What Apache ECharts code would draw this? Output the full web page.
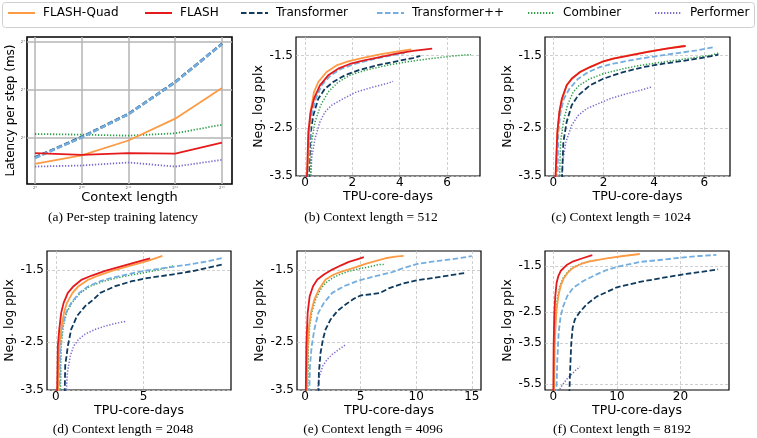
<!DOCTYPE html>
<html><head><meta charset="utf-8">
<script src="https://cdn.jsdelivr.net/npm/echarts@6/dist/echarts.min.js"></script>
<style>html,body{margin:0;padding:0;background:#fff}#c{width:757px;height:438px}</style>
</head><body><div id="c"></div>
<script>
// ---------------- DATA ----------------
const seriesNames = ['FLASH-Quad', 'FLASH', 'Transformer', 'Transformer++', 'Combiner', 'Performer'];

// (a) per-step training latency (ms) vs context length
const contextLengths = [512, 1024, 2048, 4096, 8192];
const latFlashQuad = [2.75, 3.11, 3.86, 5.29, 8.23];
const latFlash = [3.22, 3.14, 3.22, 3.19, 3.75];
const latTransformer = [3.02, 4.06, 5.66, 8.98, 15.6];
const latTransformerPP = [3.0, 4.04, 5.64, 8.95, 15.55];
const latCombiner = [4.24, 4.20, 4.14, 4.28, 4.85];
const latPerformer = [2.65, 2.69, 2.81, 2.65, 2.92];
const latXTicks = [512, 1024, 2048, 4096, 8192];
const latYTicks = [4, 8, 16];

// (b)-(f): [TPU-core-days, log pplx]  (plotted as Neg. log pplx = -value)
const b_flashQuad = [[0.07,3.8],[0.21,2.28],[0.38,1.937],[0.56,1.806],[0.91,1.683],[1.33,1.606],[1.82,1.561],[2.45,1.524],[3.16,1.487],[3.86,1.458],[4.49,1.435]];
const b_flash = [[0.07,3.8],[0.14,2.568],[0.24,2.23],[0.38,2.031],[0.63,1.848],[0.98,1.723],[1.40,1.644],[1.89,1.59],[2.45,1.553],[3.16,1.515],[3.86,1.479],[4.56,1.451],[5.37,1.428]];
const b_transformer = [[0.14,3.8],[0.24,2.568],[0.35,2.283],[0.56,2.031],[0.84,1.893],[1.19,1.806],[1.68,1.723],[2.24,1.663],[3.02,1.606],[3.86,1.561],[4.56,1.525],[4.87,1.502]];
const b_transformerPP = [[0.10,3.8],[0.24,2.338],[0.46,2.031],[0.70,1.848],[1.08,1.723],[1.54,1.644],[2.10,1.59],[2.80,1.542],[3.51,1.504],[4.21,1.472]];
const b_combiner = [[0.21,3.8],[0.28,2.755],[0.42,2.393],[0.66,2.128],[0.98,1.937],[1.40,1.806],[1.89,1.723],[2.52,1.664],[3.44,1.606],[4.28,1.568],[5.26,1.532],[6.24,1.504],[6.94,1.489],[7.01,1.489]];
const b_performer = [[0.24,3.8],[0.28,3.098],[0.42,2.691],[0.63,2.393],[0.84,2.23],[1.12,2.128],[1.61,2.031],[2.17,1.937],[2.88,1.87],[3.44,1.827],[3.72,1.797]];

const c_flashQuad = [[0.08,3.8],[0.17,2.55],[0.25,2.22],[0.36,2.02],[0.55,1.84],[0.76,1.757],[1.09,1.678],[1.5,1.62],[1.96,1.565],[2.42,1.528],[3.1,1.492],[3.76,1.458],[4.55,1.425],[5.2,1.398]];
const c_flash = [[0.07,3.8],[0.16,2.568],[0.24,2.23],[0.34,2.031],[0.53,1.848],[0.73,1.764],[1.06,1.683],[1.46,1.625],[1.92,1.568],[2.38,1.532],[3.05,1.497],[3.71,1.462],[4.50,1.428],[5.26,1.401]];
const c_transformer = [[0.33,3.8],[0.40,2.755],[0.53,2.393],[0.73,2.128],[0.99,1.983],[1.46,1.848],[1.99,1.764],[2.78,1.683],[3.58,1.625],[4.37,1.587],[5.30,1.55],[6.09,1.515],[6.56,1.49]];
const c_transformerPP = [[0.16,3.8],[0.20,2.568],[0.29,2.23],[0.42,2.031],[0.64,1.893],[0.99,1.764],[1.39,1.683],[1.85,1.625],[2.38,1.587],[3.05,1.55],[3.84,1.515],[4.77,1.479],[5.70,1.445],[6.42,1.411]];
const c_combiner = [[0.24,3.8],[0.29,2.755],[0.40,2.393],[0.56,2.128],[0.79,1.937],[1.03,1.848],[1.46,1.764],[1.99,1.703],[2.78,1.644],[3.44,1.606],[4.37,1.568],[5.30,1.532],[6.23,1.497],[6.62,1.469]];
const c_performer = [[0.33,3.8],[0.37,3.171],[0.50,2.755],[0.73,2.45],[0.99,2.283],[1.32,2.179],[1.79,2.103],[2.25,2.031],[2.91,1.96],[3.44,1.915],[3.91,1.87]];

const d_flashQuad = [[0.11,3.8],[0.19,2.568],[0.30,2.283],[0.46,2.031],[0.63,1.893],[0.95,1.764],[1.29,1.683],[1.86,1.606],[2.43,1.561],[3.19,1.511],[3.95,1.472],[4.62,1.438],[5.29,1.405],[5.76,1.379],[6.08,1.359]];
const d_flash = [[0.06,3.8],[0.11,2.568],[0.19,2.283],[0.30,2.031],[0.44,1.893],[0.68,1.764],[1.01,1.683],[1.48,1.606],[2.05,1.561],[2.81,1.511],[3.57,1.472],[4.24,1.438],[4.90,1.405],[5.38,1.382]];
const d_transformer = [[0.49,3.8],[0.53,2.949],[0.68,2.568],[0.87,2.283],[1.20,2.079],[1.67,1.937],[2.15,1.848],[2.53,1.764],[3.38,1.683],[4.33,1.625],[5.29,1.587],[6.62,1.55],[7.76,1.515],[8.90,1.469],[9.47,1.445]];
const d_transformerPP = [[0.19,3.8],[0.25,2.568],[0.38,2.23],[0.57,2.031],[0.87,1.893],[1.33,1.764],[1.86,1.683],[2.53,1.625],[3.19,1.587],[4.05,1.55],[4.90,1.515],[6.24,1.479],[7.57,1.445],[8.71,1.411],[9.47,1.381]];
const d_combiner = [[0.25,3.8],[0.30,2.568],[0.42,2.23],[0.61,2.031],[0.91,1.893],[1.39,1.764],[1.96,1.683],[2.72,1.625],[3.48,1.587],[4.43,1.55],[5.48,1.515],[6.33,1.479],[6.77,1.455]];
const d_performer = [[0.57,3.8],[0.65,3.098],[0.82,2.755],[1.01,2.568],[1.29,2.45],[1.67,2.36],[2.24,2.283],[2.81,2.23],[3.38,2.189],[4.05,2.153]];

const e_flashQuad = [[0.15,3.8],[0.24,2.568],[0.36,2.23],[0.54,2.031],[0.84,1.848],[1.25,1.723],[1.85,1.606],[2.60,1.55],[3.35,1.515],[4.39,1.479],[5.44,1.438],[6.48,1.405],[7.23,1.382],[8.13,1.366],[8.87,1.359]];
const e_flash = [[0.06,3.8],[0.12,2.568],[0.24,2.031],[0.42,1.806],[0.72,1.683],[1.11,1.606],[1.70,1.55],[2.45,1.497],[3.20,1.455],[3.94,1.418],[4.69,1.392],[5.29,1.372]];
const e_transformer = [[1.20,3.8],[1.25,3.098],[1.40,2.691],[1.61,2.45],[1.85,2.283],[2.30,2.128],[2.90,2.007],[3.65,1.915],[4.39,1.839],[4.99,1.797],[6.03,1.78],[6.78,1.764],[7.53,1.709],[8.72,1.656],[9.92,1.617],[11.41,1.59],[12.91,1.561],[14.40,1.532]];
const e_transformerPP = [[0.36,3.8],[0.45,2.949],[0.60,2.568],[0.84,2.283],[1.20,2.031],[1.70,1.893],[2.45,1.764],[3.50,1.683],[4.84,1.617],[6.33,1.568],[7.83,1.525],[8.87,1.479],[10.22,1.435],[12.01,1.408],[13.80,1.382],[15.0,1.362]];
const e_combiner = [[0.24,3.8],[0.30,2.568],[0.42,2.23],[0.60,2.031],[0.96,1.848],[1.40,1.723],[1.85,1.644],[2.45,1.59],[3.05,1.553],[3.94,1.515],[4.84,1.489],[5.74,1.469],[6.63,1.445],[7.08,1.445]];
const e_performer = [[1.05,3.8],[1.25,3.209],[1.61,2.949],[2.00,2.82],[2.45,2.723],[3.05,2.629],[3.59,2.55]];

const f_flashQuad = [[0.10,6.2],[0.21,3.626],[0.37,2.805],[0.52,2.422],[0.79,2.091],[1.15,1.873],[1.68,1.709],[2.36,1.605],[3.14,1.531],[4.45,1.465],[5.76,1.427],[8.38,1.381],[11.0,1.346],[13.61,1.317]];
const f_flash = [[0.0,6.2],[0.05,3.626],[0.16,2.512],[0.31,2.091],[0.52,1.806],[0.79,1.678],[1.15,1.588],[2.09,1.487],[3.14,1.427],[4.71,1.376],[6.13,1.332]];
const f_transformer = [[2.51,6.2],[2.67,4.519],[2.83,3.495],[3.04,2.963],[3.40,2.704],[4.08,2.512],[5.24,2.292],[6.81,2.106],[10.0,1.9],[13.61,1.79],[17.8,1.7],[20.94,1.64],[24.08,1.59],[25.92,1.559]];
const f_transformerPP = [[0.47,6.2],[0.63,4.2],[0.84,3.131],[1.15,2.607],[1.57,2.334],[2.20,2.091],[3.14,1.908],[4.71,1.773],[6.81,1.647],[8.38,1.571],[10.05,1.517],[13.61,1.437],[16.75,1.407],[20.0,1.371],[23.0,1.346],[25.65,1.33]];
const f_combiner = [[0.05,6.2],[0.16,3.626],[0.31,2.805],[0.42,2.422],[0.68,2.091],[1.05,1.873],[1.57,1.709],[2.25,1.605],[3.04,1.531],[4.29,1.465],[5.76,1.422],[6.91,1.407]];
const f_performer = [[0.79,6.0],[1.31,5.632],[2.09,5.234],[2.88,4.954],[3.56,4.723],[4.19,4.552]];

// tick labels
const ticksB = [0, 2, 4, 6];
const ticksC = [0, 2, 4, 6];
const ticksD = [0, 5];
const ticksE = [0, 5, 10, 15];
const ticksF = [0, 10, 20];
const pplTicks = [1.5, 2.5, 3.5];
const pplTicksF = [1.5, 2.5, 3.5, 5.5];

const captions = ['(a) Per-step training latency', '(b) Context length = 512', '(c) Context length = 1024',
  '(d) Context length = 2048', '(e) Context length = 4096', '(f) Context length = 8192'];

// ---------------- STYLE / LAYOUT ----------------
const COLORS = {'FLASH-Quad':'#fd9a44','FLASH':'#e41a1c','Transformer':'#0e3a5e','Transformer++':'#74aee0','Combiner':'#2e9e48','Performer':'#7a6ccf'};
const DASHES = {'FLASH-Quad':'solid','FLASH':'solid','Transformer':[5.5,2.5],'Transformer++':[5.5,2.5],'Combiner':[1.3,1.7],'Performer':[1.3,1.7]};
const WIDTH = {'FLASH-Quad':1.8,'FLASH':1.8,'Transformer':1.8,'Transformer++':1.8,'Combiner':1.5,'Performer':1.5};
const ZORD = {'Performer':1,'Combiner':2,'Transformer':3,'Transformer++':4,'FLASH-Quad':5,'FLASH':6};
const FONT = 'DejaVu Sans';

const panelData = [
  null,
  {'FLASH-Quad':b_flashQuad,'FLASH':b_flash,'Transformer':b_transformer,'Transformer++':b_transformerPP,'Combiner':b_combiner,'Performer':b_performer},
  {'FLASH-Quad':c_flashQuad,'FLASH':c_flash,'Transformer':c_transformer,'Transformer++':c_transformerPP,'Combiner':c_combiner,'Performer':c_performer},
  {'FLASH-Quad':d_flashQuad,'FLASH':d_flash,'Transformer':d_transformer,'Transformer++':d_transformerPP,'Combiner':d_combiner,'Performer':d_performer},
  {'FLASH-Quad':e_flashQuad,'FLASH':e_flash,'Transformer':e_transformer,'Transformer++':e_transformerPP,'Combiner':e_combiner,'Performer':e_performer},
  {'FLASH-Quad':f_flashQuad,'FLASH':f_flash,'Transformer':f_transformer,'Transformer++':f_transformerPP,'Combiner':f_combiner,'Performer':f_performer}
];
const latData = {'FLASH-Quad':latFlashQuad,'FLASH':latFlash,'Transformer':latTransformer,'Transformer++':latTransformerPP,'Combiner':latCombiner,'Performer':latPerformer};

const grids = [
  {left:27, top:37, width:205, height:147},
  {left:296, top:37, width:184, height:139},
  {left:545, top:37, width:185, height:139},
  {left:47, top:251, width:184, height:139},
  {left:297, top:251, width:184, height:139},
  {left:545, top:251, width:184, height:139}
];
const xRanges = [null, [-0.38, 7.39], [-0.33, 7.02], [-0.51, 10.0], [-0.72, 15.83], [-1.31, 27.64]];
const yRanges = [null, [1.315, 3.5], [1.315, 3.5], [1.313, 3.5], [1.313, 3.5], [1.274, 5.886]];
const xTickSets = [latXTicks, ticksB, ticksC, ticksD, ticksE, ticksF];
const yTickSets = [latYTicks, pplTicks, pplTicks, pplTicks, pplTicks, pplTicksF];
const captionPos = [[123,217],[371,217],[621,217],[123,429],[373,429],[622,429]];

const supers = {'0':'⁰','1':'¹','2':'²','3':'³','4':'⁴','5':'⁵','6':'⁶','7':'⁷','8':'⁸','9':'⁹'};
const pow2Label = v => '2' + String(Math.round(Math.log2(v))).split('').map(c => supers[c]).join('');

const gridOpt = [], xAxes = [], yAxes = [], series = [];
grids.forEach((g, i) => {
  const isA = i === 0;
  gridOpt.push(Object.assign({show:true, borderColor:'#000', borderWidth: isA ? 1.6 : 1.2, backgroundColor:'transparent', containLabel:false}, g));
  const split = isA ? {show:true, lineStyle:{color:'#b4b4b4', width:1.5, type:'solid'}}
                    : {show:true, lineStyle:{color:'#c4c4c4', width:0.8, type:[3,2]}};
  xAxes.push({
    gridIndex:i, type: isA ? 'log' : 'value', logBase:2,
    min: isA ? 455 : xRanges[i][0], max: isA ? 9505 : xRanges[i][1],
    axisLine:{show:false}, axisTick:{show:false, customValues:xTickSets[i]},
    axisLabel:{customValues:xTickSets[i], formatter: isA ? pow2Label : (v => String(v)),
      fontFamily:FONT, fontSize: isA ? 4 : 12, color: isA ? '#666' : '#000', margin: isA ? 2 : 1, hideOverlap:false},
    splitLine: split,
    name: isA ? 'Context length' : 'TPU-core-days', nameLocation:'middle', nameGap: isA ? 4 : 10,
    nameTextStyle:{fontFamily:FONT, fontSize: isA ? 13 : 12.5, color:'#000'}
  });
  yAxes.push({
    gridIndex:i, type:'log', logBase: isA ? 2 : 10, inverse: !isA,
    min: isA ? 2.06 : yRanges[i][0], max: isA ? 17.2 : yRanges[i][1],
    axisLine:{show:false}, axisTick:{show:false, customValues:yTickSets[i]},
    axisLabel:{customValues:yTickSets[i], formatter: isA ? pow2Label : (v => '-' + Number(v).toFixed(1)),
      fontFamily:FONT, fontSize: isA ? 4 : 12, color: isA ? '#666' : '#000', margin: isA ? 2 : 3, hideOverlap:false},
    splitLine: split,
    name: isA ? 'Latency per step (ms)' : 'Neg. log pplx', nameLocation:'middle', nameGap: isA ? 6 : 24, nameRotate:90,
    nameTextStyle:{fontFamily:FONT, fontSize: isA ? 12 : 12.5, color:'#000'}
  });
  seriesNames.forEach(name => {
    let data;
    if (isA) data = contextLengths.map((c, k) => [c, latData[name][k]]);
    else data = panelData[i][name];
    const dashed = name === 'Transformer' || name === 'Transformer++';
    series.push({
      type:'line', name, xAxisIndex:i, yAxisIndex:i, data,
      symbol:'none', showSymbol:false, silent:true, clip:true, z: 2 + ZORD[name],
      lineStyle:{color:COLORS[name], width: isA ? (dashed ? 2.6 : 1.8) : WIDTH[name], type:DASHES[name], cap:'butt', join:'round'},
      itemStyle:{color:COLORS[name]}
    });
  });
});

const legendLeft = [7, 144, 240, 376, 527, 654];
const legends = seriesNames.map((n, k) => ({
  data:[n], left: legendLeft[k], top: 7, padding:0, itemWidth:27, itemHeight:14, itemGap:0,
  selectedMode:false, itemStyle:{opacity:0, borderWidth:0},
  textStyle:{fontFamily:FONT, fontSize:12, color:'#000', padding:[0,0,0,3]}
}));

const graphics = [
  {type:'rect', left:2, top:2, z:0, shape:{width:752, height:25, r:3}, style:{fill:'#fff', stroke:'#cfcfcf', lineWidth:1}}
].concat(captions.map((t, k) => ({
  type:'text', x: captionPos[k][0], y: captionPos[k][1], z:10,
  style:{text:t, font:'13.5px "Liberation Serif"', fill:'#000', align:'center', verticalAlign:'middle', textAlign:'center', textVerticalAlign:'middle'}
})));

const chart = echarts.init(document.getElementById('c'), null, {renderer:'canvas'});
chart.setOption({
  animation:false, backgroundColor:'#fff',
  legend: legends, grid: gridOpt, xAxis: xAxes, yAxis: yAxes, series, graphic: graphics
});
</script></body></html>
